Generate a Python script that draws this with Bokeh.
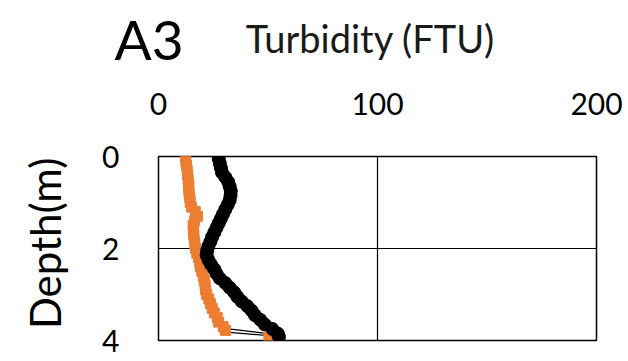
from bokeh.plotting import figure
from bokeh.models import Range1d, FixedTicker
from bokeh.layouts import column, row
from bokeh.core.properties import value
from bokeh.embed import file_html
from bokeh.resources import INLINE
import math

# Turbidity profiles (FTU) against depth (m)
depth_black = [0.05, 0.15, 0.25, 0.35, 0.45, 0.55, 0.65, 0.75, 0.85, 0.95,
               1.05, 1.15, 1.25, 1.35, 1.45, 1.55, 1.65, 1.75, 1.85, 1.95,
               2.05, 2.15, 2.25, 2.35, 2.45, 2.55, 2.65, 2.75, 2.85, 2.95,
               3.05, 3.15, 3.25, 3.35, 3.45, 3.55, 3.65, 3.75, 3.85, 3.92]
turb_black = [27.5, 28.0, 28.5, 29.0, 30.5, 31.8, 32.5, 33.0, 32.9, 32.5,
              31.6, 30.5, 29.5, 28.5, 27.5, 26.5, 25.5, 24.5, 23.7, 22.8,
              22.2, 22.0, 22.8, 24.0, 25.5, 26.5, 28.0, 30.5, 32.5, 34.5,
              36.0, 38.0, 40.5, 42.5, 44.0, 46.5, 48.5, 52.0, 54.5, 55.0]

depth_orange = [0.0, 0.1, 0.2, 0.3, 0.4, 0.5, 0.6, 0.7, 0.8, 0.9,
                1.0, 1.1, 1.2, 1.3, 1.4, 1.5, 1.6, 1.7, 1.8, 1.9,
                2.0, 2.1, 2.2, 2.3, 2.4, 2.5, 2.6, 2.7, 2.8, 2.9,
                3.0, 3.1, 3.2, 3.3, 3.4, 3.5, 3.6, 3.7, 3.78, 3.93]
turb_orange = [12.3, 12.5, 12.8, 13.1, 13.3, 13.5, 13.8, 13.8, 14.0, 14.3,
               14.5, 15.0, 16.8, 17.8, 16.5, 15.8, 16.0, 16.1, 16.3, 16.6,
               16.9, 17.5, 18.3, 18.8, 19.2, 19.8, 20.5, 20.9, 21.3, 21.5,
               22.0, 23.0, 23.7, 24.5, 25.5, 26.8, 27.5, 29.5, 30.6, 50.4]

# thin connectors near the bottom of the cast
link_turb_a = [31.0, 52.0]
link_depth_a = [3.74, 3.86]
link_turb_b = [31.0, 52.0]
link_depth_b = [3.82, 3.90]

x_ticks = [0, 100, 200]
y_ticks = [0, 2, 4]

panel_name = "A3"
x_title = "Turbidity (FTU)"
y_title = "Depth(m)"

FONT = "Lato"


def blank(width, height):
    f = figure(width=width, height=height, output_backend="svg",
               toolbar_location=None, x_axis_type=None, y_axis_type=None,
               x_range=Range1d(0, width), y_range=Range1d(height, 0),
               min_border=0)
    f.outline_line_color = None
    f.grid.visible = False
    return f


# header strip with the panel name and the quantity name
head = blank(628, 75)
head.text(x=[114], y=[38], text=[panel_name], text_font=value(FONT),
          text_font_size="55px", text_color="black",
          text_align="left", text_baseline="middle")
head.text(x=[370], y=[37], text=[x_title], text_font=value(FONT),
          text_font_size="38px", text_color="#1a1a1a",
          text_align="center", text_baseline="middle")

# left strip with the vertical quantity name
side = blank(90, 286)
side.text(x=[44], y=[135], text=[y_title], text_font=value(FONT),
          text_font_size="42px", text_color="black", angle=math.pi / 2,
          text_align="center", text_baseline="middle")

p = figure(width=538, height=286, output_backend="svg", toolbar_location=None,
           x_range=Range1d(0, 200), y_range=Range1d(4, 0),
           x_axis_location="above",
           min_border_left=68, min_border_right=32,
           min_border_top=81, min_border_bottom=21)

p.outline_line_color = "black"
p.outline_line_width = 1.5

for ax in (p.xaxis[0], p.yaxis[0]):
    ax.axis_line_color = None
    ax.major_tick_line_color = None
    ax.minor_tick_line_color = None
    ax.major_label_text_font = FONT
    ax.major_label_text_font_size = "30px"
    ax.major_label_text_color = "black"

p.xaxis.ticker = FixedTicker(ticks=x_ticks)
p.yaxis.ticker = FixedTicker(ticks=y_ticks)
p.xaxis.major_label_standoff = 36
p.yaxis.major_label_standoff = 33

p.xgrid.ticker = FixedTicker(ticks=[100])
p.ygrid.ticker = FixedTicker(ticks=[2])
p.xgrid.grid_line_color = "black"
p.ygrid.grid_line_color = "black"
p.xgrid.grid_line_width = 1.2
p.ygrid.grid_line_width = 1.2

p.line(link_turb_a, link_depth_a, line_color="black", line_width=1.2)
p.line(link_turb_b, link_depth_b, line_color="black", line_width=1.2)

p.scatter(turb_orange, depth_orange, marker="square", size=10,
          fill_color="#ED7D31", line_color="#ED7D31")
p.line(turb_black, depth_black, line_color="black", line_width=1.5)
p.scatter(turb_black, depth_black, marker="circle", size=13,
          fill_color="black", line_color="black")

layout = column(head, row(side, p, spacing=0), spacing=0)

open("out.html", "w").write(file_html(layout, INLINE))
